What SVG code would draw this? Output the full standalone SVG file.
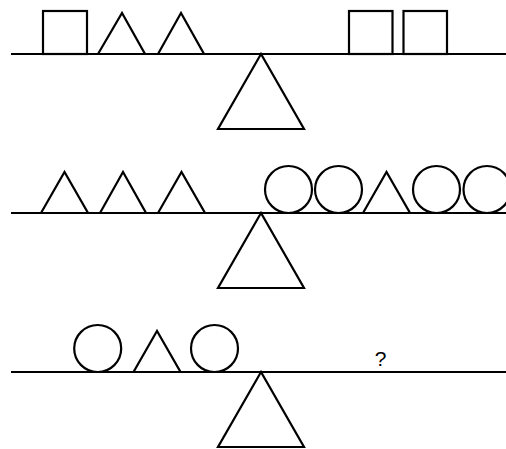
<svg xmlns="http://www.w3.org/2000/svg" width="506" height="449" viewBox="0 0 506 449">
<style>
.s{fill:none;stroke:#000;stroke-width:2.2;stroke-linejoin:miter}
.t{font-family:"Liberation Sans",Arial,sans-serif;font-size:21px;fill:#000;text-anchor:middle}
</style>
<rect width="506" height="449" fill="#fff"/>
<g id="scale1">
<line class="s" x1="11" y1="54" x2="506" y2="54"/>
<polygon class="s" points="261,54 218,129 304,129"/>
<rect class="s" x="43" y="11" width="44" height="43"/>
<polygon class="s" points="98,54 122,13 145,54"/>
<polygon class="s" points="158,54 181,13 204,54"/>
<rect class="s" x="349" y="11" width="43.5" height="43"/>
<rect class="s" x="403.5" y="11" width="43.5" height="43"/>
</g>
<g id="scale2">
<line class="s" x1="11" y1="213" x2="506" y2="213"/>
<polygon class="s" points="261,213 218,288 304,288"/>
<polygon class="s" points="41,213 64.5,172 88,213"/>
<polygon class="s" points="100,213 123,172 146,213"/>
<polygon class="s" points="158,213 181.5,172 205,213"/>
<circle class="s" cx="288.5" cy="189.5" r="23.5"/>
<circle class="s" cx="338.5" cy="189.5" r="23.5"/>
<polygon class="s" points="363,213 386.5,172 410,213"/>
<circle class="s" cx="436.5" cy="189.5" r="23.5"/>
<circle class="s" cx="487" cy="189.5" r="23.5"/>
</g>
<g id="scale3">
<line class="s" x1="11" y1="372" x2="506" y2="372"/>
<polygon class="s" points="261,372 218,447 304,447"/>
<circle class="s" cx="97.7" cy="348.5" r="23.5"/>
<polygon class="s" points="133.5,372 157,331 180.5,372"/>
<circle class="s" cx="214.5" cy="348.5" r="23.5"/>
<text class="t" x="380.5" y="365.5">?</text>
</g>
</svg>
